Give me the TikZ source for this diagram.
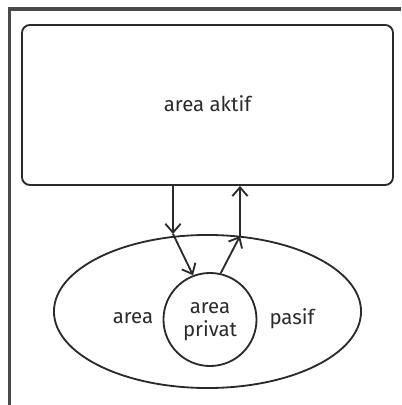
\documentclass[tikz,border=0pt]{standalone}
\usepackage{fontspec}
\setmainfont{Fira Sans}
\usetikzlibrary{arrows.meta,shapes.geometric}
\definecolor{ink}{HTML}{2A2A2A}
\tikzset{
  zone/.style={draw=ink, line width=1.3pt},
  lbl/.style={text=ink, font=\fontsize{14.5}{17}\selectfont},
  flow/.style={draw=ink, line width=1.3pt, -{Straight Barb[length=2.2mm,width=3.8mm]}},
}

\begin{document}
\begin{tikzpicture}[x=0.025cm, y=-0.025cm]
\useasboundingbox (0,0) rectangle (401,405);
% frame (top and left edge only):
\draw[ink!85, line width=2.2pt] (9.5,405) -- (9.5,9) -- (401,9);
% zones:
\node[zone, rectangle, rounded corners=0.2cm, minimum width=9.275cm, minimum height=4cm] (aktif) at (207.5,105) {};
\node[lbl] (aktiftxt) at (207.5,104) {area aktif};
\node[zone, ellipse, minimum width=7.675cm, minimum height=3.825cm, inner sep=0pt] (pasif) at (207.5,311.5) {};
\node[zone, circle, minimum size=2.325cm, inner sep=0pt, lbl, align=center, text depth=0pt] (privat) at (210,319.5) {area\\privat};
\node[lbl] (pasifl) at (133,318) {area};
\node[lbl] (pasifr) at (292,319) {pasif};
% crossing points on the ellipse:
\coordinate (ein) at (173,234);
\coordinate (eout) at (240,236);
% arrows:
\draw[flow] (aktif.south -| ein) -- (ein);
\draw[flow] (ein) -- (privat.111);
\draw[flow] (privat.77) -- (eout);
\draw[flow] (eout) -- (aktif.south -| eout);
\end{tikzpicture}
\end{document}
